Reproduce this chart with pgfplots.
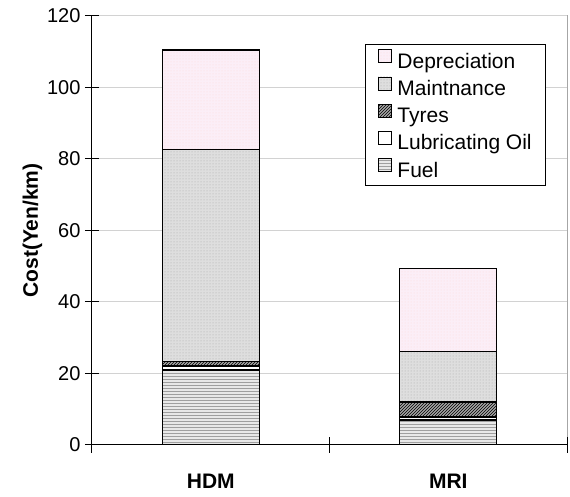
\documentclass[border=0pt]{standalone}
\usepackage{fontspec}
\setmainfont{Liberation Sans}
\usepackage{pgfplots}
\pgfplotsset{compat=1.18}
\usetikzlibrary{patterns}

\definecolor{depfill}{RGB}{251,238,247}
\definecolor{maintfill}{RGB}{222,222,222}
\definecolor{fuelfill}{RGB}{232,232,232}
\definecolor{tyrefill}{RGB}{165,165,165}

% operating cost per km, split by component
\pgfplotstableread{
x fuel lub tyres maint dep
0 21.0 1.1 1.3 59.3 27.8
1 7.0  0.8 4.2 14.2 23.1
}\costs

\begin{document}
\begin{tikzpicture}
\path[use as bounding box] (-92pt,-52pt) rectangle (478pt,445pt);
\begin{axis}[
  at={(0pt,0pt)}, anchor=south west,
  scale only axis,
  width=475pt, height=429pt,
  ybar stacked,
  bar width=97pt,
  xmin=-0.5, xmax=1.5,
  ymin=0, ymax=120,
  ytick={0,20,...,120},
  xtick={0,1},
  xticklabels={\textbf{HDM},\textbf{MRI}},
  minor xtick={-0.5,0.5,1.5},
  major x tick style={draw=none},
  minor tick length=16pt,
  major tick length=14pt,
  tick align=center,
  tick style={black, line width=1pt},
  axis x line*=bottom,
  axis y line*=left,
  axis line style={black, line width=1pt, -},
  axis background/.style={draw=gray!70, line width=1pt},
  ymajorgrids,
  grid style={gray!35, line width=1pt},
  /pgf/number format/assume math mode=true,
  yticklabel style={font=\fontsize{20}{23}\selectfont, xshift=-1pt},
  xticklabel style={font=\fontsize{21}{24}\selectfont, yshift=-19pt},
  ylabel={\textbf{Cost(Yen/km)}},
  ylabel style={font=\fontsize{21}{24}\selectfont, yshift=-2pt},
  reverse legend,
  legend cell align=left,
  legend style={
    at={(0.956,0.935)}, anchor=north east,
    draw=black, line width=0.8pt,
    font=\fontsize{21}{24}\selectfont,
    row sep=4.5pt, inner xsep=12pt, inner ysep=5pt,
    /tikz/every odd column/.append style={column sep=4pt},
  },
  legend image code/.code={
    \draw[#1, line width=0.8pt, draw=black] (0pt,-1pt) rectangle (13pt,12pt);
  },
  every axis plot/.append style={draw=black, line width=1.3pt},
]
\addplot[fill=fuelfill, postaction={pattern=horizontal lines, pattern color=gray!75}]
  table[x=x, y=fuel] {\costs};
\addplot[fill=white] table[x=x, y=lub] {\costs};
\addplot[fill=tyrefill, postaction={pattern=north east lines, pattern color=black}]
  table[x=x, y=tyres] {\costs};
\addplot[fill=maintfill, postaction={pattern=dots, pattern color=gray!70}]
  table[x=x, y=maint] {\costs};
\addplot[fill=depfill, postaction={pattern=dots, pattern color=pink!60}]
  table[x=x, y=dep] {\costs};
\legend{Fuel, Lubricating Oil, Tyres, Maintnance, Depreciation}
\end{axis}
\end{tikzpicture}
\end{document}
